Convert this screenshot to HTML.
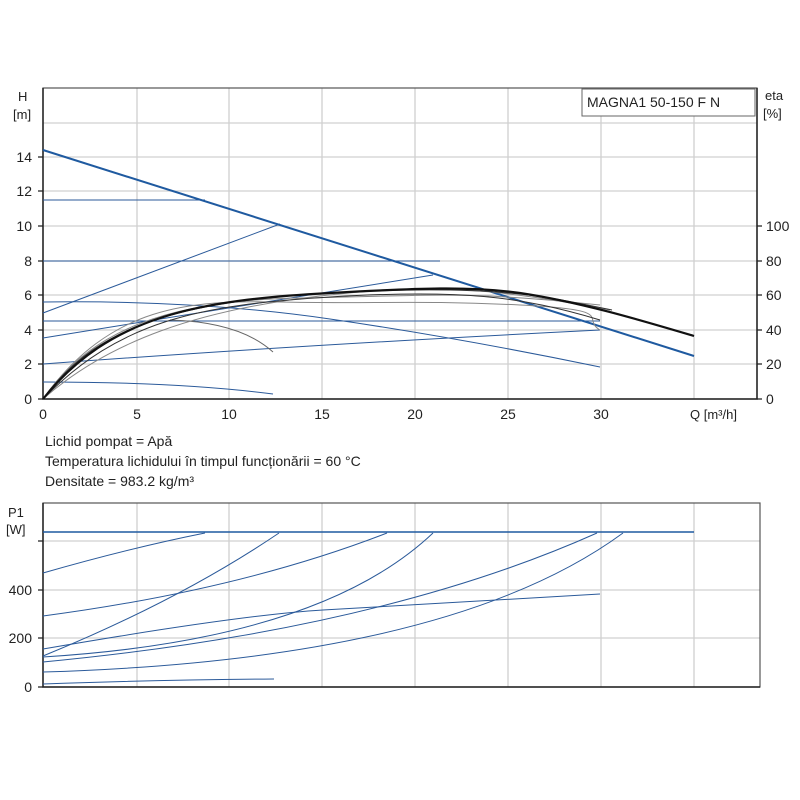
<!DOCTYPE html>
<html><head><meta charset="utf-8"><style>
body{margin:0;background:#fff}
svg{display:block}
text{font-family:"Liberation Sans",sans-serif;fill:#222}
</style></head><body>
<svg width="800" height="800" viewBox="0 0 800 800">
<g stroke="#d0d0d0" stroke-width="1.3" fill="none">
<path d="M43 123H757M43 157H757M43 191H757M43 226H757M43 261H757M43 295H757M43 330H757M43 364H757"/>
<path d="M137 88V399M229 88V399M322 88V399M415 88V399M508 88V399M601 88V399M694 88V399"/>
</g>
<rect x="43" y="88" width="714" height="311" fill="none" stroke="#555" stroke-width="1.2"/>
<path d="M43 88V399H757V88" fill="none" stroke="#222" stroke-width="1.5"/>
<g stroke="#222" stroke-width="1.2">
<path d="M38 157H43M38 191H43M38 226H43M38 261H43M38 295H43M38 330H43M38 364H43M38 399H43"/>
<path d="M757 226H762M757 261H762M757 295H762M757 330H762M757 364H762M757 399H762"/>
</g>
<g font-size="14" text-anchor="end">
<text x="32" y="162">14</text><text x="32" y="196">12</text><text x="32" y="231">10</text>
<text x="32" y="266">8</text><text x="32" y="300">6</text><text x="32" y="335">4</text>
<text x="32" y="369">2</text><text x="32" y="404">0</text>
</g>
<g font-size="14">
<text x="766" y="231">100</text><text x="766" y="266">80</text><text x="766" y="300">60</text>
<text x="766" y="335">40</text><text x="766" y="369">20</text><text x="766" y="404">0</text>
<text x="18" y="101" font-size="13">H</text><text x="13" y="119" font-size="13">[m]</text>
<text x="765" y="100" font-size="13">eta</text><text x="763" y="118" font-size="13">[%]</text>
</g>
<g font-size="14" text-anchor="middle">
<text x="43" y="419">0</text><text x="137" y="419">5</text><text x="229" y="419">10</text>
<text x="322" y="419">15</text><text x="415" y="419">20</text><text x="508" y="419">25</text>
<text x="601" y="419">30</text>
</g>
<text x="690" y="419" font-size="13">Q [m³/h]</text>
<rect x="582" y="89" width="173" height="27" fill="#fff" stroke="#666"/>
<text x="587" y="107" font-size="14">MAGNA1 50-150 F N</text>
<g fill="none" stroke="#2b5a9a" stroke-width="1">
<path d="M43 200H205"/>
<path d="M43 261H440"/>
<path d="M43 321H600"/>
<path d="M43 313L280 224"/>
<path d="M43 338L433 275"/>
<path d="M43 302Q200 300 330 319T600 367"/>
<path d="M43 364Q300 345 600 330"/>
<path d="M43 382Q180 382 273 394"/>
</g>
<path d="M43 150L694 356" fill="none" stroke="#1f5aa0" stroke-width="2"/>
<path d="M170 320Q240 322 273 352" fill="none" stroke="#666" stroke-width="1"/>
<g fill="none" stroke="#888" stroke-width="1">
<path d="M43 399C110 305 190 300 280 302S420 300 520 305S580 318 600 330"/>
<path d="M43 399C90 330 170 300 300 298S460 290 600 305"/>
<path d="M43 399C110 340 200 310 320 296S500 290 610 310"/>
</g>
<g fill="none" stroke="#333" stroke-width="1">
<path d="M43 399C120 320 200 305 330 297S520 296 600 320"/>
<path d="M43 399C100 320 190 300 350 292S560 300 612 310"/>
</g>
<path d="M43 399C110 315 200 300 330 293C420 288 470 286 520 293C580 302 640 320 694 336" fill="none" stroke="#111" stroke-width="2.2"/>
<g font-size="14">
<text x="45" y="446">Lichid pompat = Apă</text>
<text x="45" y="466">Temperatura lichidului în timpul funcționării = 60 °C</text>
<text x="45" y="486">Densitate = 983.2 kg/m³</text>
</g>
<g stroke="#d0d0d0" stroke-width="1.3" fill="none">
<path d="M43 541H760M43 590H760M43 638H760"/>
<path d="M137 503V687M229 503V687M322 503V687M415 503V687M508 503V687M601 503V687M694 503V687"/>
</g>
<rect x="43" y="503" width="717" height="184" fill="none" stroke="#555" stroke-width="1.2"/>
<path d="M43 503V687H760" fill="none" stroke="#222" stroke-width="1.5"/>
<g stroke="#222" stroke-width="1.2"><path d="M38 541H43M38 590H43M38 638H43M38 687H43"/></g>
<g font-size="14" text-anchor="end">
<text x="32" y="595">400</text><text x="32" y="643">200</text><text x="32" y="692">0</text>
</g>
<text x="8" y="517" font-size="13">P1</text><text x="6" y="534" font-size="13">[W]</text>
<g fill="none" stroke="#2b5a9a" stroke-width="1">
<path d="M43 573Q130 548 205 533"/>
<path d="M43 616Q240 590 387 533"/>
<path d="M43 656Q180 600 279 533"/>
<path d="M43 657Q320 640 433 533"/>
<path d="M43 662Q380 630 597 533"/>
<path d="M43 672Q450 660 623 533"/>
<path d="M43 649Q240 615 323 610T600 594"/>
<path d="M43 684Q150 680 274 679"/>
</g>
<path d="M43 532H694" stroke="#1f5aa0" stroke-width="1.6"/>
</svg>
</body></html>
